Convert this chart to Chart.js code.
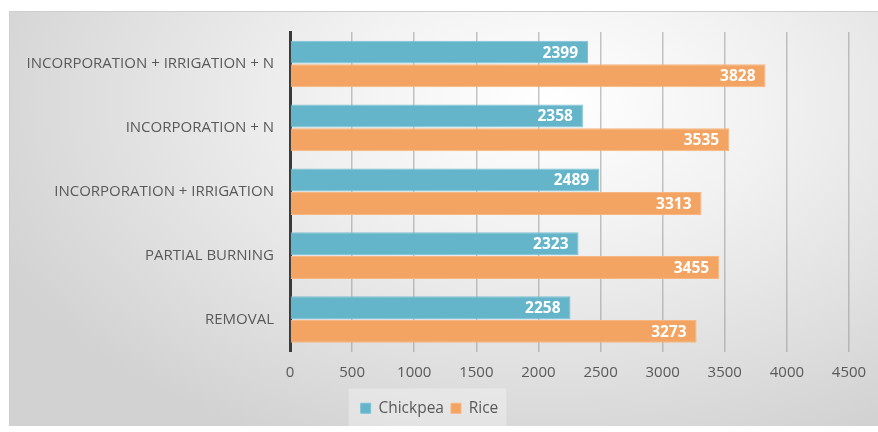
<!DOCTYPE html>
<html>
<head>
<meta charset="utf-8">
<script src="https://cdn.jsdelivr.net/npm/chart.js@4.4.1/dist/chart.umd.min.js"></script>
<style>
  html, body { margin: 0; padding: 0; background: #fff; }
  #wrap {
    position: absolute; left: 9px; top: 11px; width: 869px; height: 414px;
    border-top: 1px solid #cfcfcf; border-left: 1px solid #cfcfcf;
    background: radial-gradient(ellipse 70% 90% at 62% 22%, #ffffff 0%, #f2f2f2 35%, #d2d2d2 100%);
  }
  canvas { display: block; }
</style>
</head>
<body>
<div id="wrap"><canvas id="chart" width="869" height="414"></canvas></div>
<script>
const categories = [
  "INCORPORATION + IRRIGATION + N",
  "INCORPORATION + N",
  "INCORPORATION + IRRIGATION",
  "PARTIAL BURNING",
  "REMOVAL"
];
const chickpea = [2399, 2358, 2489, 2323, 2258];
const rice = [3828, 3535, 3313, 3455, 3273];
const xTicks = [0, 500, 1000, 1500, 2000, 2500, 3000, 3500, 4000, 4500];

const FONT = "'Open Sans', sans-serif";
const GREY = "#595959";

// white value labels at the inside end of each bar
const valueLabels = {
  id: "valueLabels",
  afterDatasetsDraw(chart) {
    const ctx = chart.ctx;
    ctx.save();
    ctx.font = "bold 15.5px " + FONT;
    ctx.fillStyle = "#ffffff";
    ctx.textAlign = "right";
    ctx.textBaseline = "middle";
    chart.data.datasets.forEach((ds, i) => {
      chart.getDatasetMeta(i).data.forEach((bar, j) => {
        ctx.fillText(ds.data[j], bar.x - 10, bar.y + 1);
      });
    });
    ctx.restore();
  }
};

// faint box behind the legend
const legendBox = {
  id: "legendBox",
  beforeDraw(chart) {
    const lg = chart.legend;
    if (!lg || !lg.legendHitBoxes.length) return;
    const first = lg.legendHitBoxes[0];
    const last = lg.legendHitBoxes[lg.legendHitBoxes.length - 1];
    const ctx = chart.ctx;
    ctx.save();
    ctx.fillStyle = "rgba(255,255,255,0.3)";
    ctx.fillRect(first.left - 12, first.top - 12, last.left + last.width - first.left + 20, first.height + 24);
    ctx.restore();
  }
};

new Chart(document.getElementById("chart"), {
  type: "bar",
  data: {
    labels: categories,
    datasets: [
      { label: "Chickpea", data: chickpea, backgroundColor: "#64b5ca", borderColor: "#7cc2d4", borderWidth: 1, borderSkipped: "start" },
      { label: "Rice", data: rice, backgroundColor: "#f4a462", borderColor: "#f7b57f", borderWidth: 1, borderSkipped: "start" }
    ]
  },
  options: {
    indexAxis: "y",
    responsive: false,
    animation: false,
    categoryPercentage: 0.74,
    barPercentage: 0.97,
    layout: { padding: { top: 20, right: 30, left: 0, bottom: 0 } },
    scales: {
      x: {
        min: 0, max: 4500,
        afterBuildTicks(scale) { scale.ticks = xTicks.map(v => ({ value: v })); },
        ticks: { color: GREY, font: { family: FONT, size: 15 }, padding: 12, callback: v => String(v) },
        grid: { color: "rgba(150,150,150,0.55)", lineWidth: 1.5, drawTicks: false },
        border: { display: false }
      },
      y: {
        afterFit(scale) { scale.width = 280; },
        ticks: { color: GREY, font: { family: FONT, size: 15 }, padding: 8 },
        grid: { display: false },
        border: { color: "#3a3a3a", width: 3 }
      }
    },
    plugins: {
      legend: {
        position: "bottom",
        labels: { color: GREY, font: { family: FONT, size: 15.5 }, boxWidth: 10, boxHeight: 10, padding: 7 }
      },
      tooltip: { enabled: false }
    }
  },
  plugins: [valueLabels, legendBox]
});
</script>
</body>
</html>
